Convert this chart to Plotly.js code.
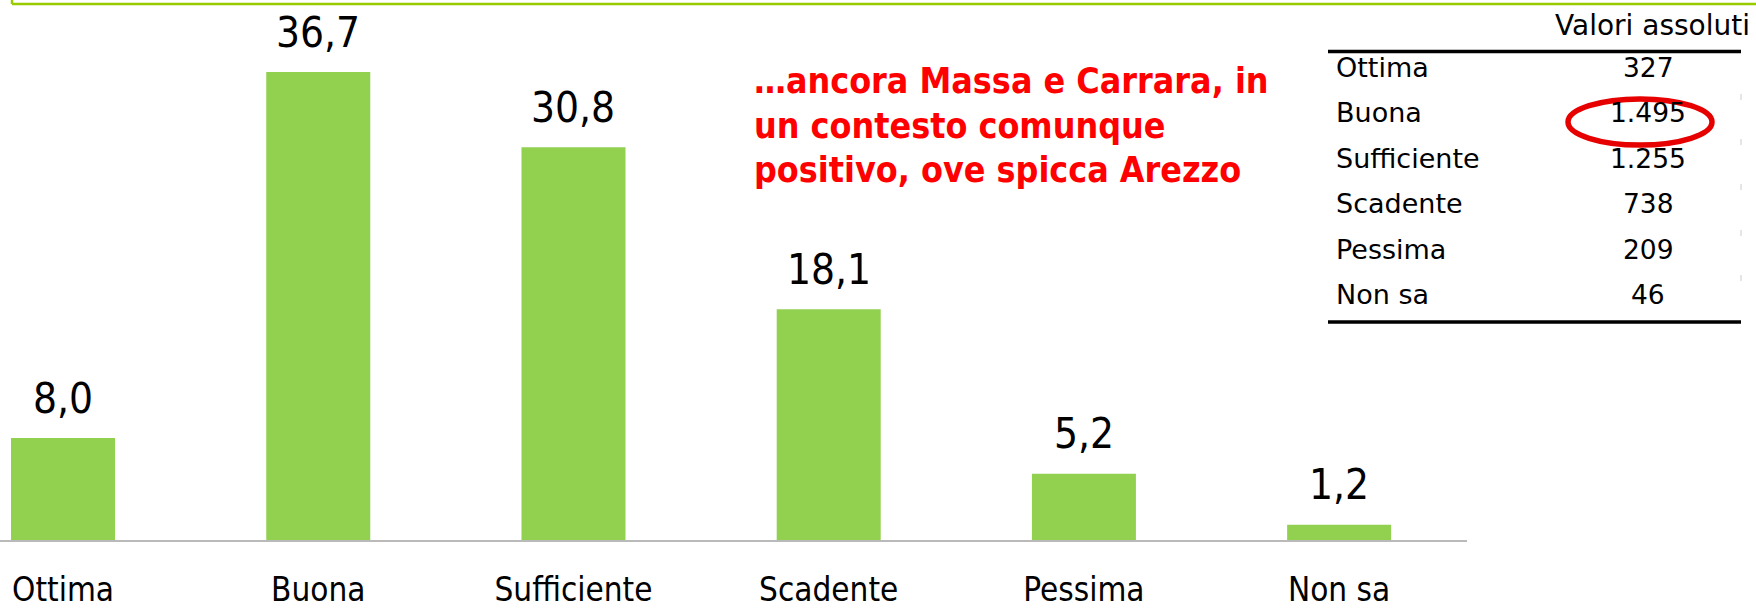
<!DOCTYPE html>
<html>
<head>
<meta charset="utf-8">
<script src="https://cdn.plot.ly/plotly-3.0.1.min.js"></script>
<style>html,body{margin:0;padding:0;background:#fff;}#chart{width:1756px;height:608px;}</style>
</head>
<body>
<div id="chart"></div>
<script>
// ---- data ----
const categories = ['Ottima', 'Buona', 'Sufficiente', 'Scadente', 'Pessima', 'Non sa'];
const percentValues = [8.0, 36.7, 30.8, 18.1, 5.2, 1.2];
const absoluteValues = [327, 1495, 1255, 738, 209, 46];
const tableTitle = 'Valori assoluti';
const noteLines = ['…ancora Massa e Carrara, in', 'un contesto comunque', 'positivo, ove spicca Arezzo'];
const highlightedRow = 1;

// ---- helpers ----
const W = 1756, H = 608;
const ML = 0, MR = 289, MT = 30, MB = 68;
const PW = W - ML - MR, PH = H - MT - MB;
const px = p => (p - ML) / PW;          // pixel -> paper x
const py = p => (H - MB - p) / PH;      // pixel -> paper y
const fmtDec = v => v.toFixed(1).replace('.', ',');
const fmtInt = v => String(v).replace(/\B(?=(\d{3})+(?!\d))/g, '.');

const barTrace = {
  type: 'bar',
  x: categories,
  y: percentValues,
  marker: {color: '#92D050'},
  hoverinfo: 'skip'
};

const annotations = [];
// value labels above bars
categories.forEach((c, i) => {
  annotations.push({
    x: c, y: percentValues[i], xref: 'x', yref: 'y',
    text: fmtDec(percentValues[i]), showarrow: false,
    yanchor: 'middle', yshift: 40,
    font: {family: 'DejaVu Sans Condensed, DejaVu Sans', size: 42, color: '#000'}
  });
});
// red note
const noteY = [81, 125, 169];
noteLines.forEach((t, i) => {
  annotations.push({
    x: px(752), y: py(noteY[i]), xref: 'paper', yref: 'paper',
    xanchor: 'left', yanchor: 'middle', align: 'left', showarrow: false,
    text: '<b>' + t + '</b>',
    font: {family: 'DejaVu Sans Condensed, DejaVu Sans', size: 35.5, color: '#FF0000'}
  });
});
// table title
annotations.push({
  x: px(1553), y: py(25), xref: 'paper', yref: 'paper',
  xanchor: 'left', yanchor: 'middle', showarrow: false,
  text: tableTitle,
  font: {family: 'DejaVu Sans', size: 28, color: '#000'}
});
// table rows
const rowY = [68, 113, 158, 203, 249, 295];
categories.forEach((c, i) => {
  annotations.push({
    x: px(1334), y: py(rowY[i]), xref: 'paper', yref: 'paper',
    xanchor: 'left', yanchor: 'middle', showarrow: false,
    text: c,
    font: {family: 'DejaVu Sans', size: 27, color: '#000'}
  });
  annotations.push({
    x: px(1648), y: py(rowY[i]), xref: 'paper', yref: 'paper',
    xanchor: 'center', yanchor: 'middle', showarrow: false,
    text: fmtInt(absoluteValues[i]),
    font: {family: 'DejaVu Sans', size: 26.5, color: '#000'}
  });
});

const shapes = [
  // green frame edge at top
  {type: 'line', xref: 'paper', yref: 'paper', x0: px(12), x1: px(1760), y0: py(4), y1: py(4),
   line: {color: '#99CC00', width: 2.5}},
  {type: 'line', xref: 'paper', yref: 'paper', x0: px(12), x1: px(12), y0: py(-2), y1: py(4),
   line: {color: '#99CC00', width: 2.5}},
  // table rules
  {type: 'line', xref: 'paper', yref: 'paper', x0: px(1328), x1: px(1741), y0: py(51.5), y1: py(51.5),
   line: {color: '#000', width: 3.5}},
  {type: 'line', xref: 'paper', yref: 'paper', x0: px(1328), x1: px(1741), y0: py(322), y1: py(322),
   line: {color: '#000', width: 3.5}},
  // highlight ellipse
  {type: 'circle', xref: 'paper', yref: 'paper', x0: px(1568), x1: px(1712),
   y0: py(rowY[highlightedRow] - 14), y1: py(rowY[highlightedRow] + 32),
   line: {color: '#E60000', width: 5.5}}
];
// faint separators at table right edge
[97, 142, 187, 233, 278].forEach(yy => {
  shapes.push({type: 'line', xref: 'paper', yref: 'paper', x0: px(1741), x1: px(1741),
    y0: py(yy - 3), y1: py(yy + 3), line: {color: '#cccccc', width: 1}});
});

const layout = {
  width: W, height: H,
  margin: {l: ML, r: MR, t: MT, b: MB, pad: 0},
  paper_bgcolor: '#fff', plot_bgcolor: '#fff',
  showlegend: false,
  bargap: 0.5925,
  xaxis: {
    type: 'category',
    range: [-0.247, 5.501],
    showgrid: false, zeroline: false,
    showline: true, linecolor: 'rgba(110,110,110,0.48)', linewidth: 2,
    ticks: '',
    tickfont: {family: 'DejaVu Sans Condensed, DejaVu Sans', size: 33, color: '#000'},
    ticklabelstandoff: 19,
    fixedrange: true
  },
  yaxis: {
    range: [0, 40],
    visible: false,
    showgrid: false, zeroline: false,
    fixedrange: true
  },
  annotations: annotations,
  shapes: shapes
};

Plotly.newPlot('chart', [barTrace], layout, {displayModeBar: false, staticPlot: true});
</script>
</body>
</html>
